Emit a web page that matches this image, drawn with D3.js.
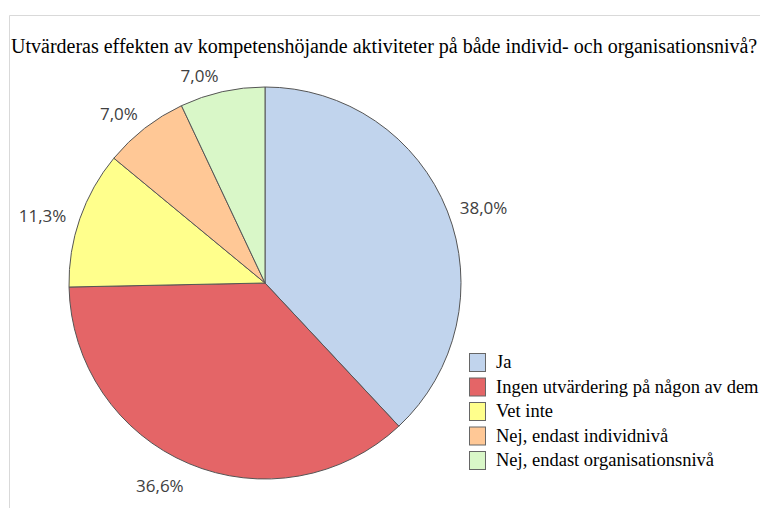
<!DOCTYPE html>
<html>
<head>
<meta charset="utf-8">
<script src="https://cdn.jsdelivr.net/npm/d3@7"></script>
<style>
  body { margin: 0; background: #fff; }
  svg { display: block; }
</style>
</head>
<body>
<div id="chart"></div>
<script>
// data
var categories = ['Ja', 'Ingen utvärdering på någon av dem', 'Vet inte', 'Nej, endast individnivå', 'Nej, endast organisationsnivå'];
var values = [38.0, 36.6, 11.3, 7.0, 7.0];
var colors = ['#c1d4ed', '#e46567', '#ffff8c', '#ffc896', '#d9f7c8'];
var title = 'Utvärderas effekten av kompetenshöjande aktiviteter på både individ- och organisationsnivå?';

var width = 760, height = 508;
var cx = 265, cy = 283, radius = 196;

var svg = d3.select('#chart').append('svg')
    .attr('width', width)
    .attr('height', height);

// chart frame (only top and left edges are visible)
svg.append('path')
    .attr('d', 'M9.5,' + height + 'V15.5H' + width)
    .attr('fill', 'none')
    .attr('stroke', '#d9d9d9');

svg.append('text')
    .attr('x', 11)
    .attr('y', 53)
    .attr('font-family', 'Liberation Serif, Times New Roman, serif')
    .attr('font-size', 20)
    .attr('fill', '#000')
    .text(title);

var pie = d3.pie().sort(null).value(function (d) { return d; });
var arcs = pie(values);

var arc = d3.arc().innerRadius(0).outerRadius(radius);

var g = svg.append('g').attr('transform', 'translate(' + cx + ',' + cy + ')');

g.selectAll('path.slice')
    .data(arcs)
    .enter().append('path')
    .attr('class', 'slice')
    .attr('d', arc)
    .attr('fill', function (d, i) { return colors[i]; })
    .attr('stroke', '#555')
    .attr('stroke-width', 1);

var fmt = function (v) { return v.toFixed(1).replace('.', ',') + '%'; };

// labels sit just outside the rim, their box touching the point at mid angle
function labelPos(d) {
    var a = (d.startAngle + d.endAngle) / 2,
        r = radius + 8,
        s = Math.sin(a), c = Math.cos(a),
        x = r * s, y = -r * c;
    if (c > 0.6) { y -= 2; x += s < 0 ? -2 : 2; }
    else if (c < -0.6) { y += 21; x += s < 0 ? -2 : 2; }
    else { y += 6; x += s < 0 ? -6 : 5; }
    return [x, y];
}

g.selectAll('text.lbl')
    .data(arcs)
    .enter().append('text')
    .attr('class', 'lbl')
    .attr('transform', function (d) { return 'translate(' + labelPos(d) + ')'; })
    .attr('text-anchor', function (d) { return Math.sin((d.startAngle + d.endAngle) / 2) < 0 ? 'end' : 'start'; })
    .attr('font-family', 'Open Sans, Noto Sans, sans-serif')
    .attr('font-size', 17)
    .attr('fill', '#404040')
    .text(function (d) { return fmt(d.data); });

// legend
var legendY = d3.scaleBand()
    .domain(categories)
    .range([353, 353 + 24.5 * categories.length]);

var leg = svg.append('g').selectAll('g')
    .data(categories)
    .enter().append('g')
    .attr('transform', function (d) { return 'translate(469,' + legendY(d) + ')'; });

leg.append('rect')
    .attr('x', 0.5)
    .attr('y', 0.5)
    .attr('width', 16)
    .attr('height', 18)
    .attr('fill', function (d, i) { return colors[i]; })
    .attr('stroke', '#666');

leg.append('text')
    .attr('x', 27)
    .attr('y', 15)
    .attr('font-family', 'Liberation Serif, Times New Roman, serif')
    .attr('font-size', 18.5)
    .attr('fill', '#000')
    .text(function (d) { return d; });
</script>
</body>
</html>
